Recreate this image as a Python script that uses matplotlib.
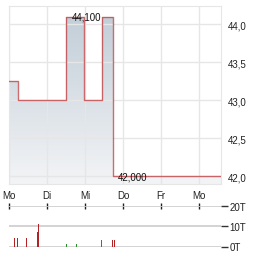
import numpy as np
import matplotlib
matplotlib.use("Agg")
import matplotlib.pyplot as plt

plt.rcParams['font.family'] = ['Liberation Sans', 'DejaVu Sans']

# price steps (day offset from first Monday, price in EUR)
step_x = [0.0, 0.23, 1.49, 1.97, 2.44, 2.74, 5.58]
step_y = [43.25, 43.0, 44.1, 43.0, 44.1, 42.0, 42.0]

day_labels = ['Mo', 'Di', 'Mi', 'Do', 'Fr', 'Mo']
price_ticks = [42.0, 42.5, 43.0, 43.5, 44.0]
price_tick_labels = ['42,0', '42,5', '43,0', '43,5', '44,0']

# volume bars (day offset, thousands)
vol_x = [0.14, 0.22, 0.455, 0.745, 0.77, 1.51, 1.77, 2.43, 2.72, 2.77]
vol_y = [4.0, 4.0, 4.0, 7.2, 11.0, 1.0, 1.0, 3.0, 3.0, 3.0]
vol_col = ['#b22222'] * 5 + ['#2e8b2e'] * 3 + ['#b22222'] * 2
vol_ticks = [0, 10, 20]
vol_tick_labels = ['0T', '10T', '20T']

W, H = 264, 255
fig = plt.figure(figsize=(W / 100, H / 100), dpi=100)

# === price chart ===
ax = fig.add_axes([9 / W, 1 - 185 / H, 212 / W, 178 / H])
xmax = 5.58

ax.step(step_x, step_y, where='post', color='#c0393b', linewidth=1.0, alpha=0.75, zorder=3)
poly = ax.fill_between(step_x, step_y, 41.9, step='post', color='none', zorder=2)

# vertical gradient fill clipped to area under the line (dark on top)
grad = np.linspace(0, 1, 256).reshape(-1, 1)
cmap = matplotlib.colors.LinearSegmentedColormap.from_list('g', ['#c2ced8', '#f3f4f6'])
im = ax.imshow(grad, extent=[0, xmax, 41.9, 44.1], origin='upper', aspect='auto',
               cmap=cmap, zorder=1)
im.set_clip_path(poly.get_paths()[0], transform=ax.transData)

ax.set_xlim(0, xmax)
ax.set_ylim(41.9, 44.24)

ax.text(2.03, 44.1, '44,100', ha='center', va='center', fontsize=7, color='#111', zorder=4)
ax.text(2.86, 42.0, '42,000', ha='left', va='center', fontsize=7, color='#111', zorder=4)

ax.set_xticks(range(len(day_labels)))
ax.set_xticklabels(day_labels)
ax.set_yticks(price_ticks)
ax.set_yticklabels(price_tick_labels)
ax.yaxis.tick_right()
ax.tick_params(axis='both', length=0, labelsize=7, colors='#222')
ax.tick_params(axis='y', pad=5)
ax.tick_params(axis='x', pad=4)
ax.grid(True, color='#e6e6e6', linewidth=1)
for s in ax.spines.values():
    s.set_color('#e6e6e6')

# === volume chart ===
axv = fig.add_axes([9 / W, 1 - 247.5 / H, 212 / W, 40.2 / H])
axv.set_xlim(0, xmax)
axv.set_ylim(0, 20)
axv.bar(vol_x, vol_y, width=0.025, color=vol_col, zorder=3)
for s in axv.spines.values():
    s.set_visible(False)
axv.set_yticks(vol_ticks)
axv.set_yticklabels(vol_tick_labels)
axv.yaxis.tick_right()
axv.tick_params(axis='y', length=5, width=1, color='#333', labelsize=7, colors='#222', pad=1)
axv.grid(True, axis='y', color='#cccccc', linewidth=1.2)
axv.xaxis.tick_top()
axv.set_xticks(range(len(day_labels)))
axv.tick_params(axis='x', direction='inout', length=4, width=1, color='#222', labeltop=False)

fig.savefig('out.png', dpi=100)
